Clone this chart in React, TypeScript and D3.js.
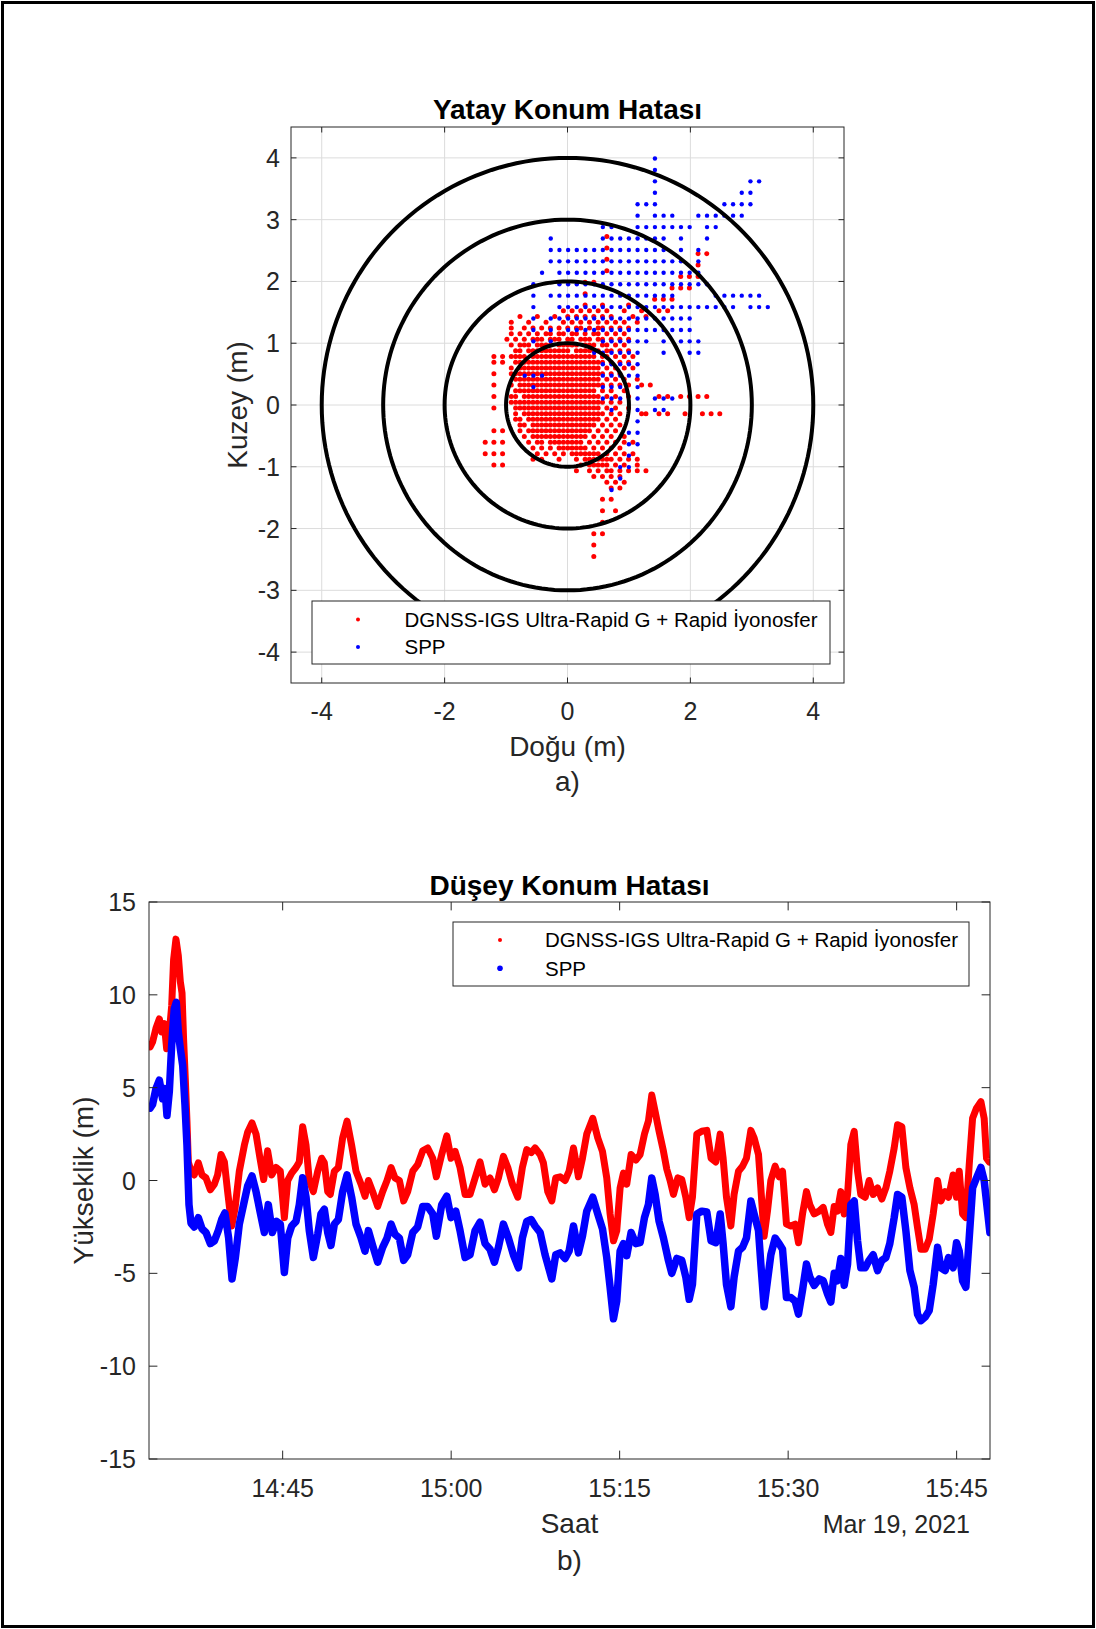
import React, { useEffect } from "react";
import * as d3 from "d3";

const W = 1096;
const H = 1629;
const FONT = "'Liberation Sans', Arial, Helvetica, sans-serif";
const RED = "#ff0000";
const BLUE = "#0000ff";
const AXC = "#262626";

// ---------- a) Yatay Konum Hatası ----------
// both solutions are quantized on a grid, so each row lists occupied grid columns
// DGNSS grid: east = -1.41 + k*0.0707, north = 2.82 - i*0.0925 (row i from the top)
const dgnssEast0 = -1.41;
const dgnssEastStep = 0.0707;
const dgnssNorthTop = 2.82;
const dgnssNorthStep = 0.0925;
const dgnssRows: number[][] = [
  [],
  [29],
  [],
  [29],
  [50, 52],
  [29],
  [50],
  [29],
  [46, 48, 50],
  [24, 26],
  [44, 46, 48],
  [24],
  [40, 42, 44],
  [24, 28, 34],
  [19, 21, 23, 25, 27, 29, 33, 37, 41, 43],
  [9, 13, 17, 20, 22, 24, 26, 28, 30, 35, 38],
  [7, 11, 15, 19, 21, 23, 25, 27, 29, 31, 33, 36],
  [7, 10, 12, 14, 16, 18, 20, 22, 23, 25, 27, 28, 30, 32, 34],
  [7, 9, 11, 13, 15, 16, 18, 19, 21, 22, 24, 26, 27, 29, 31, 33],
  [6, 8, 10, 12, 13, 14, 16, 17, 18, 20, 21, 23, 24, 25, 27, 28, 30, 32, 34],
  [7, 9, 10, 11, 13, 14, 15, 16, 18, 19, 20, 21, 22, 24, 25, 26, 28, 29, 31, 33],
  [8, 9, 11, 12, 13, 14, 15, 16, 17, 18, 19, 20, 22, 23, 24, 25, 26, 27, 29, 30, 32, 34],
  [3, 5, 7, 8, 9, 10, 12, 13, 14, 15, 16, 17, 18, 19, 20, 21, 22, 23, 24, 25, 26, 28, 29, 31, 33, 35],
  [3, 5, 8, 9, 10, 11, 12, 13, 14, 15, 16, 17, 18, 19, 20, 21, 22, 23, 24, 25, 26, 27, 28, 30, 32, 34],
  [7, 9, 10, 11, 12, 13, 14, 15, 16, 17, 18, 19, 20, 21, 22, 23, 24, 25, 26, 27, 29, 31, 33, 35],
  [3, 7, 8, 9, 10, 11, 12, 13, 14, 15, 16, 17, 18, 19, 20, 21, 22, 23, 24, 25, 26, 27, 28, 30, 32],
  [8, 9, 10, 11, 12, 13, 14, 15, 16, 17, 18, 19, 20, 21, 22, 23, 24, 25, 26, 27, 29, 31, 33, 36],
  [3, 7, 9, 10, 11, 12, 13, 14, 15, 16, 17, 18, 19, 20, 21, 22, 23, 24, 25, 26, 27, 28, 30, 32, 34, 37, 39],
  [8, 9, 10, 11, 12, 13, 14, 15, 16, 17, 18, 19, 20, 21, 22, 23, 24, 25, 26, 28, 30, 33],
  [3, 7, 8, 10, 11, 12, 13, 14, 15, 16, 17, 18, 19, 20, 21, 22, 23, 24, 25, 26, 27, 29, 31, 34, 41, 43, 46, 48, 50, 52],
  [7, 8, 9, 10, 11, 12, 13, 14, 15, 16, 17, 18, 19, 20, 21, 22, 23, 24, 25, 26, 27, 28, 30, 32],
  [3, 8, 9, 10, 11, 12, 13, 14, 15, 16, 17, 18, 19, 20, 21, 22, 23, 24, 25, 26, 27, 29, 31, 34],
  [8, 10, 11, 12, 13, 14, 15, 16, 17, 18, 19, 20, 21, 22, 23, 24, 25, 26, 27, 28, 30, 32, 37, 38, 41, 43, 47, 51, 53, 55],
  [8, 9, 11, 12, 13, 14, 15, 16, 17, 18, 19, 20, 21, 22, 23, 24, 25, 26, 27, 29, 31],
  [9, 10, 12, 13, 14, 15, 16, 17, 18, 19, 20, 21, 22, 23, 24, 25, 26, 28, 30, 32],
  [3, 5, 9, 11, 12, 13, 14, 15, 16, 17, 18, 19, 20, 21, 22, 23, 24, 25, 27, 29, 31],
  [10, 12, 13, 14, 15, 16, 17, 18, 19, 20, 21, 22, 23, 24, 26, 28, 30, 33],
  [1, 3, 5, 11, 13, 14, 16, 17, 18, 19, 20, 21, 22, 23, 25, 27, 29, 31, 33, 35],
  [12, 14, 16, 18, 19, 20, 21, 22, 23, 24, 26, 28, 30, 32],
  [1, 3, 5, 13, 15, 17, 19, 21, 22, 23, 24, 25, 26, 27, 29, 31, 33, 35],
  [12, 14, 18, 22, 24, 25, 26, 27, 28, 29, 30, 32, 34, 36],
  [3, 5, 23, 25, 26, 27, 28, 29, 31, 33, 36],
  [22, 25, 27, 29, 30, 32, 34, 36, 38],
  [26, 28, 30, 32],
  [29, 31, 33],
  [30, 32],
  [],
  [28, 30],
  [],
  [28, 31],
  [],
  [28],
  [],
  [26, 28],
  [],
  [26],
  [],
  [26],
];

// SPP grid: east = 0.01 + c*0.1413, north = 3.99 - i*0.185 (row i from the top)
const sppEast0 = 0.01;
const sppEastStep = 0.1413;
const sppNorthTop = 3.99;
const sppNorthStep = 0.185;
const sppRows: number[][] = [
  [10],
  [10],
  [10, 21, 22],
  [10, 20, 21],
  [8, 9, 10, 18, 19, 20, 21],
  [8, 10, 11, 12, 15, 16, 17, 18, 19, 20],
  [4, 5, 8, 9, 10, 11, 12, 13, 14, 16, 17],
  [-2, 4, 5, 6, 7, 8, 9, 10, 11, 13, 16],
  [-2, -1, 0, 1, 2, 3, 4, 5, 6, 7, 8, 9, 10, 11, 13, 15],
  [-2, -1, 0, 1, 2, 3, 4, 5, 6, 7, 8, 9, 10, 11, 12, 13, 15],
  [-3, -1, 0, 1, 2, 3, 4, 5, 6, 7, 8, 9, 10, 11, 12, 13, 14, 15],
  [-4, -1, 0, 1, 2, 3, 4, 5, 6, 7, 8, 9, 10, 11, 12, 13, 14, 15, 16],
  [-4, -2, -1, 0, 1, 2, 3, 4, 5, 6, 7, 8, 9, 10, 11, 12, 17, 18, 19, 20, 21, 22],
  [-4, -1, 0, 1, 2, 3, 4, 5, 6, 7, 8, 9, 10, 11, 12, 13, 14, 15, 16, 17, 18, 19, 21, 22, 23],
  [-4, -2, -1, 0, 1, 2, 3, 4, 5, 6, 7, 8, 9, 10, 11, 12, 13, 14],
  [-4, -2, 0, 1, 2, 3, 4, 5, 6, 7, 8, 9, 10, 11, 12, 13, 14],
  [-4, -2, 4, 5, 6, 7, 8, 9, 11, 13, 14, 15],
  [3, 4, 5, 6, 7, 8, 11, 14, 15],
  [4, 5, 6, 7, 8],
  [-5, -4, -3, 4, 5, 6, 7, 8],
  [-4, 4, 5, 6, 8],
  [4, 5, 6, 8, 10, 11, 12],
  [5, 8, 10, 11],
  [8],
  [7, 8],
  [7, 8],
  [7],
  [6, 7],
  [6],
  [5],
];

const ringRadii = [1, 2, 3, 4];
const eastTicks = [-4, -2, 0, 2, 4];
const northTicks = [-4, -3, -2, -1, 0, 1, 2, 3, 4];

// ---------- b) Düşey Konum Hatası ----------
// time in minutes after 14:00 (Mar 19, 2021), height error in metres
const dgnssMin = [
  33.2, 33.42, 33.72, 34.02, 34.23, 34.46, 34.67, 34.91, 35.12, 35.29, 35.5, 35.71, 35.89, 36.04, 36.18, 36.33,
  36.48, 36.6, 36.84, 37.13, 37.49, 37.82, 38.17, 38.56, 38.92, 39.21, 39.51, 39.81, 40.1, 40.46, 40.76, 41.14,
  41.59, 41.88, 42.27, 42.63, 42.98, 43.31, 43.66, 44.02, 44.41, 44.79, 45.15, 45.45, 45.8, 46.19, 46.48, 46.78,
  47.08, 47.37, 47.73, 48.12, 48.47, 48.71, 49.01, 49.24, 49.6, 49.96, 50.34, 50.73, 51.14, 51.53, 51.98, 52.33,
  52.63, 53.01, 53.46, 53.9, 54.29, 54.65, 55.0, 55.39, 55.77, 56.13, 56.58, 57.02, 57.47, 57.91, 58.36, 58.68,
  59.16, 59.61, 59.99, 60.35, 60.79, 61.24, 61.68, 62.13, 62.57, 63.02, 63.46, 63.85, 64.21, 64.65, 65.04, 65.45,
  65.93, 66.34, 66.73, 67.12, 67.47, 67.92, 68.21, 68.6, 68.96, 69.31, 69.7, 70.14, 70.5, 70.89, 71.33, 71.69,
  72.07, 72.61, 73.05, 73.47, 73.85, 74.15, 74.45, 74.74, 75.04, 75.34, 75.63, 76.02, 76.44, 76.82, 77.21, 77.56,
  77.86, 78.16, 78.51, 78.9, 79.2, 79.49, 79.79, 80.18, 80.53, 80.89, 81.19, 81.48, 81.87, 82.31, 82.76, 83.14,
  83.56, 83.95, 84.21, 84.51, 84.9, 85.19, 85.58, 85.94, 86.29, 86.68, 86.97, 87.36, 87.57, 87.86, 88.16, 88.46,
  88.84, 89.2, 89.5, 89.85, 90.24, 90.62, 90.92, 91.28, 91.63, 91.93, 92.32, 92.76, 93.12, 93.5, 93.8, 94.1,
  94.39, 94.69, 94.99, 95.29, 95.58, 95.88, 96.18, 96.47, 96.86, 97.21, 97.57, 97.96, 98.34, 98.7, 99.05, 99.44,
  99.74, 100.12, 100.48, 100.84, 101.22, 101.52, 101.82, 102.2, 102.56, 102.91, 103.3, 103.6, 103.98, 104.28, 104.69, 104.99,
  105.23, 105.53, 105.82, 106.12, 106.42, 106.77, 107.16, 107.45, 107.66, 107.9,
];
const dgnssHeight = [
  7.2, 7.46, 8.2, 8.7, 8.0, 8.45, 7.1, 8.0, 9.4, 11.9, 13.0, 12.1, 10.7, 10.1, 7.6, 5.5,
  3.2, 1.0, 0.5, 0.3, 0.95, 0.3, 0.14, -0.5, -0.2, 0.3, 1.4, 1.0, -0.6, -2.45, -1.5, 0.5,
  1.9, 2.6, 3.1, 2.5, 1.2, 0.05, 1.6, 0.3, 0.7, 0.5, -2.0, 0.0, 0.4, 0.7, 1.0, 2.9,
  1.9, 0.0, -0.6, 0.5, 1.2, 0.95, -0.6, -0.75, 0.5, 0.7, 2.3, 3.2, 1.9, 0.5, -0.2, -0.85,
  0.0, -0.6, -1.4, -0.6, 0.0, 0.7, 0.14, 0.0, -1.1, -0.6, 0.5, 0.85, 1.6, 1.75, 1.2, 0.2,
  1.4, 2.4, 1.2, 1.57, 0.7, -0.75, -0.75, 0.14, 1.0, -0.2, 0.14, -0.5, 0.14, 1.3, 0.7, -0.2,
  -0.9, 0.7, 1.66, 1.5, 1.75, 1.4, 0.95, -0.6, -1.1, 0.14, 0.2, 0.0, 0.5, 1.75, 0.2, 1.2,
  2.5, 3.35, 2.3, 1.57, 0.14, -1.8, -3.25, -2.7, -0.4, 0.4, -0.2, 1.4, 1.1, 1.4, 2.5, 3.2,
  4.6, 3.7, 2.65, 1.57, 0.6, 0.0, -0.75, 0.14, 0.05, -0.9, -2.0, -0.9, 2.5, 2.65, 2.7, 1.2,
  1.0, 2.5, 1.2, -0.9, -2.45, -0.75, 0.5, 0.77, 1.2, 2.7, 2.3, 1.4, -0.4, -3.0, -1.65, 0.0,
  0.77, 0.2, 0.5, -2.35, -2.45, -2.35, -3.35, -1.8, -0.6, -1.3, -1.8, -1.65, -1.45, -2.35, -2.8, -1.4,
  -1.65, -0.6, -1.8, -0.75, 1.93, 2.65, 0.5, -0.75, -0.9, 0.0, -0.75, -0.4, -1.0, -0.4, 0.5, 1.75,
  3.0, 2.9, 0.7, -0.4, -1.3, -2.55, -3.7, -3.7, -3.15, -1.8, 0.0, -1.1, -0.6, -0.9, 0.3, -0.9,
  0.5, -1.8, -2.0, 0.85, 3.35, 3.9, 4.25, 3.35, 1.2, 1.0,
];

const sppMin = [
  33.2, 33.42, 33.72, 34.02, 34.31, 34.52, 34.7, 34.91, 35.12, 35.35, 35.53, 35.71, 35.89, 36.1, 36.3, 36.48,
  36.66, 36.84, 37.13, 37.49, 37.82, 38.17, 38.56, 38.92, 39.27, 39.57, 39.86, 40.19, 40.49, 40.79, 41.14, 41.59,
  41.88, 42.27, 42.63, 42.98, 43.37, 43.72, 44.08, 44.44, 44.79, 45.15, 45.45, 45.8, 46.19, 46.48, 46.78, 47.08,
  47.37, 47.73, 48.12, 48.41, 48.71, 49.01, 49.3, 49.6, 49.96, 50.34, 50.73, 51.14, 51.53, 51.98, 52.33, 52.63,
  53.01, 53.46, 53.9, 54.29, 54.65, 55.0, 55.39, 55.77, 56.13, 56.58, 57.02, 57.47, 57.91, 58.36, 58.68, 59.16,
  59.61, 59.99, 60.41, 60.79, 61.24, 61.68, 62.13, 62.57, 63.02, 63.46, 63.85, 64.21, 64.65, 65.1, 65.54, 65.99,
  66.34, 66.73, 67.12, 67.47, 67.92, 68.36, 68.96, 69.31, 69.7, 70.14, 70.5, 70.89, 71.33, 71.69, 72.07, 72.61,
  73.05, 73.47, 73.85, 74.15, 74.45, 74.74, 75.04, 75.34, 75.63, 76.02, 76.44, 76.82, 77.21, 77.56, 77.86, 78.16,
  78.51, 78.9, 79.34, 79.64, 80.09, 80.53, 80.89, 81.19, 81.48, 81.87, 82.31, 82.76, 83.14, 83.56, 83.95, 84.21,
  84.51, 84.9, 85.19, 85.58, 85.94, 86.29, 86.68, 86.97, 87.36, 87.57, 87.86, 88.16, 88.46, 88.84, 89.2, 89.5,
  89.85, 90.24, 90.62, 90.92, 91.28, 91.63, 91.93, 92.32, 92.76, 93.12, 93.5, 93.8, 94.1, 94.39, 94.69, 94.99,
  95.29, 95.58, 95.88, 96.18, 96.47, 96.86, 97.21, 97.57, 97.96, 98.34, 98.7, 99.05, 99.44, 99.74, 100.12, 100.48,
  100.84, 101.22, 101.52, 101.82, 102.2, 102.56, 102.91, 103.3, 103.6, 103.98, 104.28, 104.69, 104.99, 105.23, 105.53, 105.82,
  106.12, 106.42, 106.77, 107.16, 107.45, 107.75, 107.96,
];
const sppHeight = [
  3.9, 4.1, 4.95, 5.4, 4.4, 4.95, 3.5, 4.8, 7.3, 9.25, 9.6, 8.0, 7.1, 6.2, 4.1, 1.9,
  -1.3, -2.3, -2.5, -2.0, -2.6, -2.8, -3.4, -3.25, -2.7, -2.1, -1.75, -3.1, -5.3, -4.15, -2.35, -1.1,
  -0.3, 0.25, -0.6, -1.65, -2.8, -1.3, -2.8, -2.2, -2.35, -4.95, -3.1, -2.45, -2.2, -1.3, 0.15, -0.9,
  -2.7, -4.15, -2.9, -1.8, -1.55, -2.8, -3.5, -2.35, -2.1, -0.6, 0.3, -0.9, -2.35, -3.1, -3.8, -2.7,
  -3.5, -4.4, -3.6, -3.1, -2.35, -2.9, -3.1, -4.3, -4.0, -2.8, -2.5, -1.4, -1.4, -1.8, -3.0, -1.3,
  -0.85, -2.0, -1.65, -2.7, -4.15, -4.0, -2.7, -2.25, -3.4, -3.7, -4.4, -3.6, -2.35, -3.1, -4.0, -4.7,
  -3.1, -2.2, -2.1, -2.45, -2.8, -4.0, -5.3, -4.0, -3.9, -4.2, -3.8, -2.45, -3.9, -3.0, -1.65, -0.9,
  -1.8, -2.6, -4.15, -5.75, -7.45, -6.5, -3.8, -3.4, -4.05, -2.8, -3.4, -3.35, -2.0, -1.3, 0.14, -0.75,
  -2.2, -3.1, -4.3, -5.0, -4.2, -4.3, -5.2, -6.4, -5.6, -1.8, -1.65, -1.7, -3.25, -3.35, -1.8, -3.4,
  -5.6, -6.8, -5.2, -3.8, -3.6, -3.1, -1.1, -1.8, -2.7, -4.5, -6.8, -5.4, -4.0, -3.1, -3.4, -3.7,
  -6.3, -6.3, -6.5, -7.2, -5.9, -4.5, -5.2, -5.65, -5.3, -5.4, -6.1, -6.55, -5.0, -5.4, -4.2, -5.65,
  -4.5, -1.3, -1.1, -3.25, -4.7, -4.7, -4.3, -4.0, -4.85, -4.3, -4.15, -3.4, -2.0, -0.75, -0.9, -2.7,
  -4.85, -5.75, -7.2, -7.55, -7.35, -7.0, -5.6, -3.6, -4.7, -4.85, -4.15, -4.7, -3.35, -3.8, -5.4, -5.75,
  -3.1, -0.4, 0.14, 0.7, 0.0, -1.65, -2.8,
];

const timeLimits = [33.1, 107.97];
const timeTicks = [45, 60, 75, 90, 105];
const heightTicks = [15, 10, 5, 0, -5, -10, -15];

const legendLabels = ["DGNSS-IGS Ultra-Rapid G + Rapid İyonosfer", "SPP"];

const day0 = new Date(2021, 2, 19, 14, 0, 0).getTime();
const toDate = (m: number) => new Date(day0 + m * 60000);
const fmtNum = (t: number) => (t < 0 ? "-" + Math.abs(t) : String(t));

function HorizontalPlot() {
  const L = 291, T = 127, PW = 553, PH = 556;
  const x = d3.scaleLinear().domain([-4.5, 4.5]).range([L, L + PW]);
  const y = d3.scaleLinear().domain([-4.5, 4.5]).range([T + PH, T]);
  const tl = 5.5;

  const dgnssPts = dgnssRows.flatMap((ks, i) =>
    ks.map((k) => [dgnssEast0 + k * dgnssEastStep, dgnssNorthTop - i * dgnssNorthStep])
  );
  const sppPts = sppRows.flatMap((cs, i) =>
    cs.map((c) => [sppEast0 + c * sppEastStep, sppNorthTop - i * sppNorthStep])
  );

  const ring = d3.line<[number, number]>().x((d) => x(d[0])).y((d) => y(d[1]));
  const ringPath = (r: number) =>
    ring(d3.range(0, 361, 2).map((a) => [r * Math.cos((a * Math.PI) / 180), r * Math.sin((a * Math.PI) / 180)]));

  return (
    <g fontFamily={FONT}>
      <defs>
        <clipPath id="clipH">
          <rect x={L} y={T} width={PW} height={PH} />
        </clipPath>
      </defs>
      <rect x={L} y={T} width={PW} height={PH} fill="#fff" />
      {eastTicks.map((t) => (
        <line key={"gx" + t} x1={x(t)} x2={x(t)} y1={T} y2={T + PH} stroke="#dcdcdc" strokeWidth={1} />
      ))}
      {northTicks.map((t) => (
        <line key={"gy" + t} x1={L} x2={L + PW} y1={y(t)} y2={y(t)} stroke="#dcdcdc" strokeWidth={1} />
      ))}
      <g clipPath="url(#clipH)">
        {dgnssPts.map((p, i) => (
          <circle key={"r" + i} cx={x(p[0])} cy={y(p[1])} r={2.5} fill={RED} />
        ))}
        {sppPts.map((p, i) => (
          <circle key={"b" + i} cx={x(p[0])} cy={y(p[1])} r={2.2} fill={BLUE} />
        ))}
        {ringRadii.map((r) => (
          <path key={"c" + r} d={ringPath(r) || ""} fill="none" stroke="#000" strokeWidth={4} />
        ))}
      </g>
      <g>
        <rect x={312} y={601} width={518} height={63} fill="#fff" stroke={AXC} strokeWidth={1} />
        <circle cx={358} cy={619.5} r={2} fill={RED} />
        <circle cx={358} cy={647} r={2} fill={BLUE} />
        <text x={404.5} y={626.8} fontSize={20.5} fill="#000">{legendLabels[0]}</text>
        <text x={404.5} y={654.3} fontSize={20.5} fill="#000">{legendLabels[1]}</text>
      </g>
      <rect x={L} y={T} width={PW} height={PH} fill="none" stroke={AXC} strokeWidth={1} />
      {eastTicks.map((t) => (
        <g key={"tx" + t}>
          <line x1={x(t)} x2={x(t)} y1={T + PH} y2={T + PH - tl} stroke={AXC} />
          <line x1={x(t)} x2={x(t)} y1={T} y2={T + tl} stroke={AXC} />
          <text x={x(t)} y={720} textAnchor="middle" fontSize={25} fill={AXC}>
            {fmtNum(t)}
          </text>
        </g>
      ))}
      {northTicks.map((t) => (
        <g key={"ty" + t}>
          <line x1={L} x2={L + tl} y1={y(t)} y2={y(t)} stroke={AXC} />
          <line x1={L + PW} x2={L + PW - tl} y1={y(t)} y2={y(t)} stroke={AXC} />
          <text x={280} y={y(t) + 9} textAnchor="end" fontSize={25} fill={AXC}>
            {fmtNum(t)}
          </text>
        </g>
      ))}
      <text x={L + PW / 2} y={119} textAnchor="middle" fontSize={28} fontWeight="bold" fill="#000">
        Yatay Konum Hatası
      </text>
      <text x={L + PW / 2} y={756} textAnchor="middle" fontSize={28} fill={AXC}>
        Doğu (m)
      </text>
      <text transform={`translate(247,${T + PH / 2}) rotate(-90)`} textAnchor="middle" fontSize={28} fill={AXC}>
        Kuzey (m)
      </text>
      <text x={L + PW / 2} y={791} textAnchor="middle" fontSize={28} fill={AXC}>
        a)
      </text>
    </g>
  );
}

function VerticalPlot() {
  const L = 149, T = 902, PW = 841, PH = 557;
  const x = d3.scaleTime().domain([toDate(timeLimits[0]), toDate(timeLimits[1])]).range([L, L + PW]);
  const y = d3.scaleLinear().domain([-15, 15]).range([T + PH, T]);
  const tl = 8.4;
  const fmt = d3.timeFormat("%H:%M");

  const line = d3
    .line<[number, number]>()
    .x((d) => x(toDate(d[0])))
    .y((d) => y(d[1]));
  const dgnssPath = line(dgnssMin.map((m, i) => [m, dgnssHeight[i]])) || "";
  const sppPath = line(sppMin.map((m, i) => [m, sppHeight[i]])) || "";

  return (
    <g fontFamily={FONT}>
      <defs>
        <clipPath id="clipV">
          <rect x={L} y={T} width={PW} height={PH} />
        </clipPath>
      </defs>
      <rect x={L} y={T} width={PW} height={PH} fill="#fff" />
      <g clipPath="url(#clipV)">
        <path d={dgnssPath} fill="none" stroke={RED} strokeWidth={7} strokeLinejoin="round" strokeLinecap="round" />
        <path d={sppPath} fill="none" stroke={BLUE} strokeWidth={7.5} strokeLinejoin="round" strokeLinecap="round" />
      </g>
      <g>
        <rect x={453} y={922} width={516} height={64} fill="#fff" stroke={AXC} strokeWidth={1} />
        <circle cx={500} cy={940} r={2} fill={RED} />
        <circle cx={500} cy={968.3} r={2.8} fill={BLUE} />
        <text x={545} y={947.3} fontSize={20.5} fill="#000">{legendLabels[0]}</text>
        <text x={545} y={975.6} fontSize={20.5} fill="#000">{legendLabels[1]}</text>
      </g>
      <rect x={L} y={T} width={PW} height={PH} fill="none" stroke={AXC} strokeWidth={1} />
      {timeTicks.map((m) => {
        const px = x(toDate(m));
        return (
          <g key={"tx" + m}>
            <line x1={px} x2={px} y1={T + PH} y2={T + PH - tl} stroke={AXC} />
            <line x1={px} x2={px} y1={T} y2={T + tl} stroke={AXC} />
            <text x={px} y={1497} textAnchor="middle" fontSize={25} fill={AXC}>
              {fmt(toDate(m))}
            </text>
          </g>
        );
      })}
      {heightTicks.map((t) => (
        <g key={"ty" + t}>
          <line x1={L} x2={L + tl} y1={y(t)} y2={y(t)} stroke={AXC} />
          <line x1={L + PW} x2={L + PW - tl} y1={y(t)} y2={y(t)} stroke={AXC} />
          <text x={136} y={y(t) + 9} textAnchor="end" fontSize={25} fill={AXC}>
            {fmtNum(t)}
          </text>
        </g>
      ))}
      <text x={L + PW / 2} y={895} textAnchor="middle" fontSize={28} fontWeight="bold" fill="#000">
        Düşey Konum Hatası
      </text>
      <text x={L + PW / 2} y={1533} textAnchor="middle" fontSize={28} fill={AXC}>
        Saat
      </text>
      <text x={970} y={1533} textAnchor="end" fontSize={25} fill={AXC}>
        Mar 19, 2021
      </text>
      <text transform={`translate(93,${T + PH / 2}) rotate(-90)`} textAnchor="middle" fontSize={28} fill={AXC}>
        Yükseklik (m)
      </text>
      <text x={L + PW / 2} y={1570} textAnchor="middle" fontSize={28} fill={AXC}>
        b)
      </text>
    </g>
  );
}

export default function App() {
  useEffect(() => {
    document.body.style.margin = "0";
  }, []);
  return (
    <svg
      width={W}
      height={H}
      viewBox={`0 0 ${W} ${H}`}
      style={{ position: "absolute", left: 0, top: 0, display: "block", background: "#fff" }}
    >
      <rect x={0} y={0} width={W} height={H} fill="#fff" />
      <rect x={2.5} y={2.5} width={W - 5} height={H - 5} fill="none" stroke="#000" strokeWidth={3} />
      <HorizontalPlot />
      <VerticalPlot />
    </svg>
  );
}
